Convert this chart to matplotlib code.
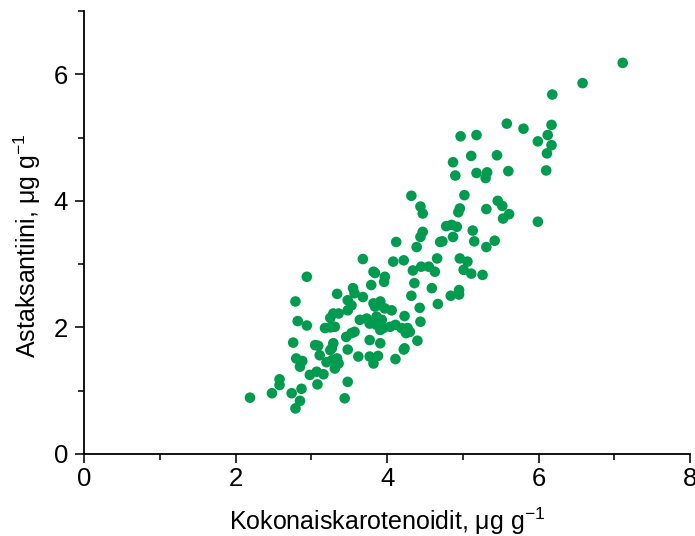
import matplotlib
matplotlib.use("Agg")
import matplotlib.pyplot as plt
from matplotlib.ticker import MultipleLocator

plt.rcParams['font.family'] = ['Liberation Sans', 'DejaVu Sans']
plt.rcParams['mathtext.fontset'] = 'custom'
plt.rcParams['mathtext.rm'] = 'Liberation Sans'
plt.rcParams['mathtext.it'] = 'Liberation Sans'

# total carotenoids (x) and astaxanthin (y), ug/g
karotenoidit = [
    7.11, 6.58, 6.18, 6.17, 5.80, 6.12, 5.99, 6.17, 6.11, 6.10, 5.99,
    5.58, 4.97, 5.18, 5.11, 5.45, 4.87, 4.90, 5.18, 5.32, 5.30, 5.60,
    4.32, 4.44, 4.47, 5.02, 4.96, 4.94, 5.31, 5.46, 5.52, 5.61, 5.53,
    4.47, 4.44, 4.39, 4.78, 4.85, 4.92, 4.87, 4.73, 4.70, 5.13, 5.15,
    5.42, 5.31, 4.22, 4.34, 4.45, 4.55, 4.63, 4.66, 4.96, 5.06, 5.01,
    5.11, 5.26, 4.36, 4.59, 4.84, 4.95, 4.95, 4.67, 4.43, 4.44, 4.40,
    4.08, 3.84, 3.97, 3.96, 3.79, 4.32, 4.23, 4.23, 4.11,
    3.84, 3.91, 3.97, 4.06, 3.86, 3.86, 3.93, 4.04, 4.11, 4.19, 4.23,
    4.27, 4.30, 3.91, 3.77, 3.91, 3.88, 3.82, 3.77,
    3.53, 3.48, 3.29, 3.36, 3.64, 3.73, 3.77, 3.84, 3.95, 4.25,
    3.31, 3.53, 3.57, 3.46, 3.29, 3.27, 3.48, 4.22, 3.62, 3.34, 3.36,
    3.31, 3.48, 3.44, 4.12, 3.68, 3.82, 3.55, 3.57, 3.48, 3.34, 3.68,
    3.82, 3.91,
    2.94, 2.79, 2.82, 2.94, 3.25, 3.18, 3.25, 2.76, 3.05, 3.09, 3.11,
    3.25, 3.27, 3.20, 2.80, 2.88, 2.85, 2.98, 3.07, 3.16, 2.58, 2.58,
    3.08, 2.87, 2.74, 2.48, 2.19, 2.85, 2.79,
]
astaksantiini = [
    6.18, 5.86, 5.68, 5.20, 5.14, 5.04, 4.94, 4.88, 4.75, 4.48, 3.67,
    5.22, 5.02, 5.04, 4.71, 4.72, 4.61, 4.40, 4.44, 4.45, 4.36, 4.47,
    4.08, 3.91, 3.80, 4.09, 3.88, 3.82, 3.87, 4.00, 3.92, 3.79, 3.72,
    3.51, 3.43, 3.27, 3.60, 3.62, 3.59, 3.43, 3.36, 3.35, 3.53, 3.36,
    3.37, 3.27, 3.06, 2.90, 2.96, 2.96, 2.88, 3.09, 3.09, 3.04, 2.91,
    2.85, 2.83, 2.70, 2.62, 2.50, 2.59, 2.52, 2.37, 2.31, 2.09, 1.79,
    3.04, 2.86, 2.80, 2.72, 2.67, 2.50, 2.18, 1.67, 1.50,
    2.33, 2.35, 2.30, 2.27, 2.17, 2.04, 2.12, 2.01, 2.04, 1.99, 1.96,
    1.99, 1.93, 1.96, 1.80, 1.75, 1.55, 1.43, 1.54,
    2.35, 2.27, 2.22, 2.22, 2.12, 2.14, 2.06, 2.09, 1.99, 1.91,
    2.01, 1.91, 1.93, 1.85, 1.75, 1.67, 1.65, 1.65, 1.54, 1.51, 1.43,
    1.35, 1.14, 0.88, 3.35, 3.08, 2.88, 2.62, 2.54, 2.43, 2.53, 2.48,
    2.38, 2.41,
    2.80, 2.41, 2.10, 2.03, 2.15, 1.99, 2.00, 1.76, 1.72, 1.71, 1.56,
    1.64, 1.48, 1.45, 1.51, 1.47, 1.38, 1.25, 1.30, 1.26, 1.18, 1.09,
    1.10, 1.03, 0.96, 0.96, 0.89, 0.84, 0.72,
]

fig = plt.figure(figsize=(6.95, 5.36), dpi=100)
ax = fig.add_axes([0.121, 0.153, 0.872, 0.8265])

ax.scatter(karotenoidit, astaksantiini, s=58, color='#009b4e',
           edgecolors='none', zorder=3, clip_on=False)

ax.set_xlim(0, 8)
ax.set_ylim(0, 7)
ax.xaxis.set_major_locator(MultipleLocator(2))
ax.xaxis.set_minor_locator(MultipleLocator(1))
ax.yaxis.set_major_locator(MultipleLocator(2))
ax.yaxis.set_minor_locator(MultipleLocator(1))

for side in ['top', 'right']:
    ax.spines[side].set_visible(False)
for side in ['left', 'bottom']:
    ax.spines[side].set_linewidth(1.3)

ax.tick_params(which='major', length=6.5, width=1.3, labelsize=18.5,
               direction='out', colors='#222222', labelcolor='black')
ax.tick_params(axis='x', which='major', pad=3)
ax.tick_params(axis='y', which='major', pad=5)
ax.tick_params(which='minor', length=4, width=1.3, direction='out',
               colors='#222222')

ax.set_xlabel('Kokonaiskarotenoidit, μg g$^{-1}$', fontsize=18)
ax.set_ylabel('Astaksantiini, μg g$^{-1}$', fontsize=18)
ax.xaxis.set_label_coords(0.5, -0.116)
ax.yaxis.set_label_coords(-0.068, 0.47)

fig.savefig('out.png', dpi=100)
